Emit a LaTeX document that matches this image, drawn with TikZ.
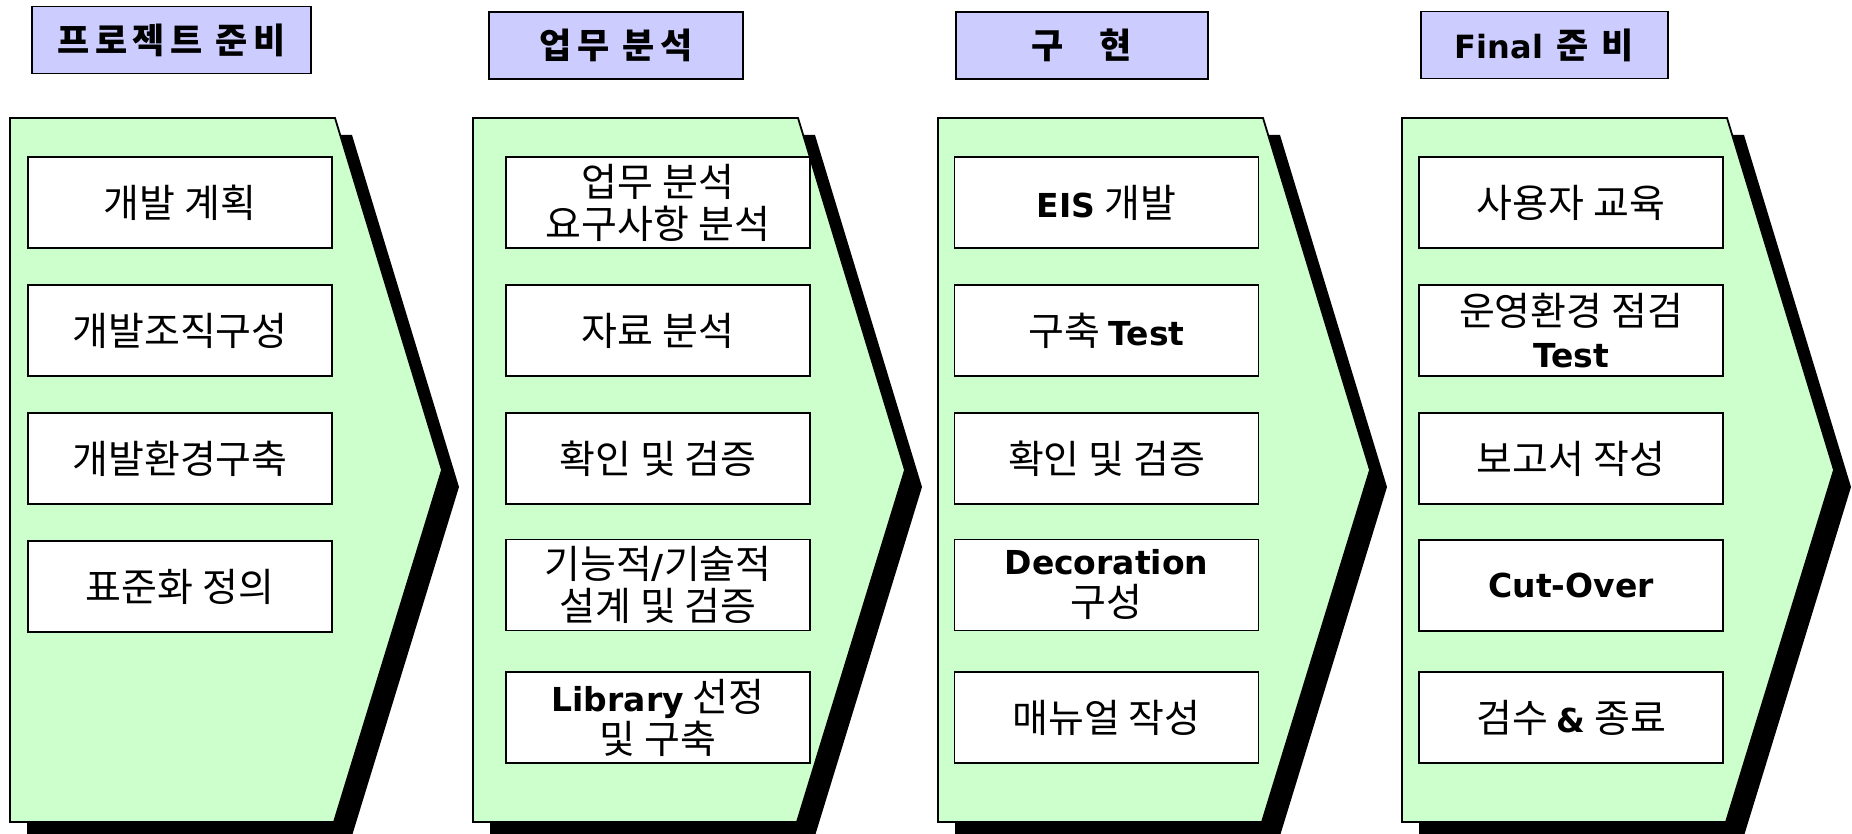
\documentclass[tikz,border=0pt]{standalone}
\usepackage{fontspec}
\setmainfont{Noto Sans CJK KR}
\newfontfamily\krb[LetterSpace=15]{Noto Sans CJK KR}
\newfontfamily\latb{DejaVu Sans}
\newcommand\LB[1]{{\latb\bfseries\fontsize{33}{42}\selectfont #1}}
\definecolor{chevgreen}{HTML}{CCFFCC}
\definecolor{headblue}{HTML}{CCCCFF}
\begin{document}
\begin{tikzpicture}[x=1pt,y=-1pt,
  chev/.style={fill=chevgreen, draw=black, line width=1.8pt, line join=miter},
  shad/.style={fill=black},
  task/.style={draw=black, fill=white, line width=1.8pt, minimum width=304pt, minimum height=91pt, inner sep=0pt, align=center, font=\fontsize{39}{42}\selectfont},
  head/.style={draw=black, fill=headblue, line width=1.8pt, inner sep=0pt, minimum height=67pt, font=\krb\bfseries\fontsize{35}{38}\selectfont}]
\useasboundingbox (0,0) rectangle (1852,834);
\clip (0,0) rectangle (1852,834);
% shadows
\foreach \L in {10,473,938,1402}{
  \fill[shad] (\L+17,135) -- (\L+342,135) -- (\L+449,487) -- (\L+341,839) -- (\L+17,839) -- cycle;
}
% chevrons
\foreach \L in {10,473,938,1402}{
  \draw[chev] (\L,118) -- (\L+325,118) -- (\L+432,470) -- (\L+324,822) -- (\L,822) -- cycle;
}
% headers
\node[head, minimum width=279pt] (h1) at (171.5,40) {프로젝트 준비};
\node[head, minimum width=254pt] (h2) at (616,45.5) {업무 분석};
\node[head, minimum width=252pt] (h3) at (1082,45.5) {구\hspace{36pt}현};
\node[head, minimum width=247pt] (h4) at (1544.5,45) {{\latb\bfseries\fontsize{32}{38}\selectfont Final} 준 비};
% column 1
\node[task] (a1) at (180,202.5) {개발 계획};
\node[task] (a2) at (180,330.5) {개발조직구성};
\node[task] (a3) at (180,458.5) {개발환경구축};
\node[task] (a4) at (180,586.5) {표준화 정의};
% column 2
\node[task] (b1) at (658,202.5) {업무 분석\\요구사항 분석};
\node[task] (b2) at (658,330.5) {자료 분석};
\node[task] (b3) at (658,458.5) {확인 및 검증};
\node[task] (b4) at (658,585) {기능적\LB{/}기술적\\설계 및 검증};
\node[task] (b5) at (658,717.5) {\LB{Library} 선정\\및 구축};
% column 3
\node[task] (c1) at (1106.5,202.5) {\LB{EIS} 개발};
\node[task] (c2) at (1106.5,330.5) {구축 \LB{Test}};
\node[task] (c3) at (1106.5,458.5) {확인 및 검증};
\node[task] (c4) at (1106.5,585) {\LB{Decoration}\\구성};
\node[task] (c5) at (1106.5,717.5) {매뉴얼 작성};
% column 4
\node[task] (d1) at (1571,202.5) {사용자 교육};
\node[task] (d2) at (1571,330.5) {운영환경 점검\\\LB{Test}};
\node[task] (d3) at (1571,458.5) {보고서 작성};
\node[task] (d4) at (1571,585.5) {\LB{Cut-Over}};
\node[task] (d5) at (1571,717.5) {검수 \LB{\&} 종료};
\end{tikzpicture}
\end{document}
